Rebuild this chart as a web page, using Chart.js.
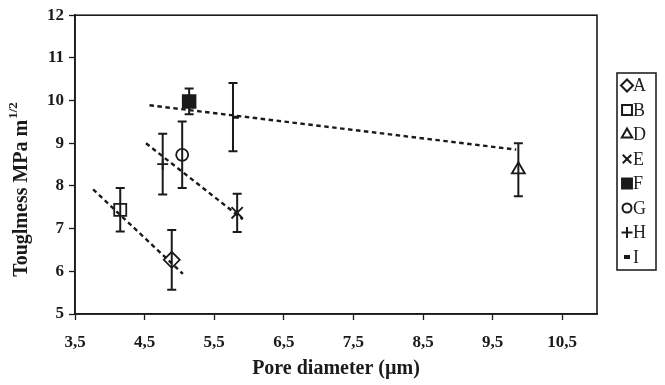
<!DOCTYPE html>
<html>
<head>
<meta charset="utf-8">
<script src="https://cdn.jsdelivr.net/npm/chart.js@4/dist/chart.umd.min.js"></script>
<style>
  html, body { margin: 0; padding: 0; background: #fff; }
  #wrap { position: relative; width: 665px; height: 385px; }
</style>
</head>
<body>
<div id="wrap"><canvas id="chart" width="665" height="385"></canvas></div>
<script>
// samples
const sampleNames = ["A", "B", "D", "E", "F", "G", "H", "I"];
const poreDiameter = [4.89, 4.15, 9.87, 5.83, 5.14, 5.04, 4.76, 5.77];
const toughness = [6.27, 7.44, 8.38, 7.37, 9.98, 8.73, 8.51, 9.61];
const toughnessErr = [0.70, 0.51, 0.62, 0.45, 0.30, 0.78, 0.71, 0.80];

// dashed trend lines (x pair, y pair)
const trendABx = [3.76, 5.05];
const trendABy = [7.92, 5.94];
const trendHEx = [4.52, 5.91];
const trendHEy = [9.00, 7.22];
const trendFDx = [4.57, 9.84];
const trendFDy = [9.89, 8.85];

const xTicks = [3.5, 4.5, 5.5, 6.5, 7.5, 8.5, 9.5, 10.5];
const yTicks = [5, 6, 7, 8, 9, 10, 11, 12];

const SERIF = "'Liberation Serif', 'DejaVu Serif', serif";
const INK = "#1a1a1a";

const MARKERS = {
  A: { pointStyle: "rectRot", radius: 8, fill: false },
  B: { pointStyle: "rect", radius: 8.5, fill: false },
  D: { pointStyle: "triangle", radius: 7.5, fill: false },
  E: { pointStyle: "crossRot", radius: 8, fill: false },
  F: { pointStyle: "rect", radius: 9, fill: true },
  G: { pointStyle: "circle", radius: 6, fill: false },
  H: { pointStyle: "cross", radius: 5.5, fill: false },
  I: { pointStyle: "dash", radius: 6, fill: false },
};

const LEGEND_MARKERS = {
  A: { pointStyle: "rectRot", radius: 6 },
  B: { pointStyle: "rect", radius: 7 },
  D: { pointStyle: "triangle", radius: 6 },
  E: { pointStyle: "crossRot", radius: 6 },
  F: { pointStyle: "rect", radius: 7 },
  G: { pointStyle: "circle", radius: 4.5 },
  H: { pointStyle: "cross", radius: 5.5 },
  I: { pointStyle: "line", radius: 3 },
};

const sampleSets = sampleNames.map((name, i) => {
  const m = MARKERS[name];
  return {
    label: name,
    data: [{ x: poreDiameter[i], y: toughness[i] }],
    err: toughnessErr[i],
    pointStyle: m.pointStyle,
    pointRadius: m.radius,
    pointHoverRadius: m.radius,
    pointBorderColor: INK,
    pointBackgroundColor: m.fill ? INK : "rgba(0,0,0,0)",
    pointBorderWidth: name === "I" ? 3 : 1.8,
    showLine: false,
  };
});

function trendSet(xs, ys) {
  return {
    label: "_trend",
    data: xs.map((x, i) => ({ x, y: ys[i] })),
    showLine: true,
    borderColor: INK,
    borderWidth: 2.4,
    borderDash: [4.5, 3.5],
    pointRadius: 0,
    fill: false,
  };
}

const errorBars = {
  id: "errorBars",
  afterDatasetsDraw(chart) {
    const { ctx, scales: { x, y } } = chart;
    ctx.save();
    ctx.strokeStyle = INK;
    ctx.lineWidth = 2;
    chart.data.datasets.forEach((ds) => {
      if (ds.err == null) return;
      const p = ds.data[0];
      const px = x.getPixelForValue(p.x);
      const top = y.getPixelForValue(p.y + ds.err);
      const bot = y.getPixelForValue(p.y - ds.err);
      ctx.beginPath();
      ctx.moveTo(px, top); ctx.lineTo(px, bot);
      ctx.moveTo(px - 4.5, top); ctx.lineTo(px + 4.5, top);
      ctx.moveTo(px - 4.5, bot); ctx.lineTo(px + 4.5, bot);
      ctx.stroke();
    });
    ctx.restore();
  },
};

const frame = {
  id: "frame",
  afterDraw(chart) {
    const { ctx, chartArea: a } = chart;
    ctx.save();
    ctx.strokeStyle = INK;
    ctx.lineWidth = 1.6;
    ctx.strokeRect(a.left, a.top, a.right - a.left, a.bottom - a.top);

    // y title with superscript
    ctx.translate(22, 190);
    ctx.rotate(-Math.PI / 2);
    ctx.fillStyle = INK;
    ctx.textBaseline = "middle";
    const main = "Touglmess MPa m";
    ctx.font = `bold 13px ${SERIF}`;
    const supW = ctx.measureText("1/2").width;
    ctx.font = `bold 20px ${SERIF}`;
    const mainW = ctx.measureText(main).width;
    const start = -(mainW + supW) / 2;
    ctx.textAlign = "left";
    ctx.fillText(main, start, 0);
    ctx.font = `bold 13px ${SERIF}`;
    ctx.fillText("1/2", start + mainW + 1, -8);
    ctx.restore();
  },
};

const boxLegend = {
  id: "boxLegend",
  afterDraw(chart) {
    const { ctx } = chart;
    const left = 617, top = 73, right = 656, bottom = 270, rowH = 24.5;
    ctx.save();
    ctx.strokeStyle = "#222";
    ctx.lineWidth = 1.6;
    ctx.strokeRect(left, top, right - left, bottom - top);
    sampleNames.forEach((name, i) => {
      const cy = top + 12.5 + i * rowH;
      const m = LEGEND_MARKERS[name];
      ctx.strokeStyle = INK;
      ctx.fillStyle = name === "F" ? INK : "#fff";
      ctx.lineWidth = name === "I" ? 4 : 2;
      Chart.helpers.drawPoint(ctx, { pointStyle: m.pointStyle, radius: m.radius, rotation: 0, borderWidth: ctx.lineWidth }, 627, cy);
      ctx.fillStyle = "#222";
      ctx.font = `18px ${SERIF}`;
      ctx.textAlign = "left";
      ctx.textBaseline = "middle";
      ctx.fillText(name, 633, cy + 1);
    });
    ctx.restore();
  },
};

const tickFont = { family: SERIF, size: 17, weight: "bold" };

new Chart(document.getElementById("chart"), {
  type: "scatter",
  data: {
    datasets: [
      ...sampleSets,
      trendSet(trendABx, trendABy),
      trendSet(trendHEx, trendHEy),
      trendSet(trendFDx, trendFDy),
    ],
  },
  options: {
    responsive: false,
    animation: false,
    layout: { padding: { top: 14, right: 68, left: 0, bottom: 0 } },
    plugins: {
      legend: { display: false },
      tooltip: { enabled: false },
    },
    scales: {
      x: {
        type: "linear",
        min: 3.5,
        max: 11,
        afterBuildTicks: (s) => { s.ticks = xTicks.map((v) => ({ value: v })); },
        afterFit: (s) => { s.height = 71; },
        ticks: {
          color: INK,
          font: tickFont,
          padding: 12,
          callback: (v) => String(v).replace(".", ","),
        },
        grid: { drawOnChartArea: false, tickLength: 6, color: INK, tickWidth: 1.3 },
        border: { color: INK, width: 1.6 },
        title: {
          display: true,
          text: "Pore diameter (µm)",
          color: INK,
          font: { family: SERIF, size: 20, weight: "bold" },
          padding: { top: 0 },
        },
      },
      y: {
        type: "linear",
        min: 5,
        max: 12,
        afterBuildTicks: (s) => { s.ticks = yTicks.map((v) => ({ value: v })); },
        afterFit: (s) => { s.width = 75; },
        ticks: { color: INK, font: tickFont, padding: 5 },
        grid: { drawOnChartArea: false, tickLength: 6, color: INK, tickWidth: 1.3 },
        border: { color: INK, width: 1.6 },
      },
    },
  },
  plugins: [errorBars, frame, boxLegend],
});
</script>
</body>
</html>
